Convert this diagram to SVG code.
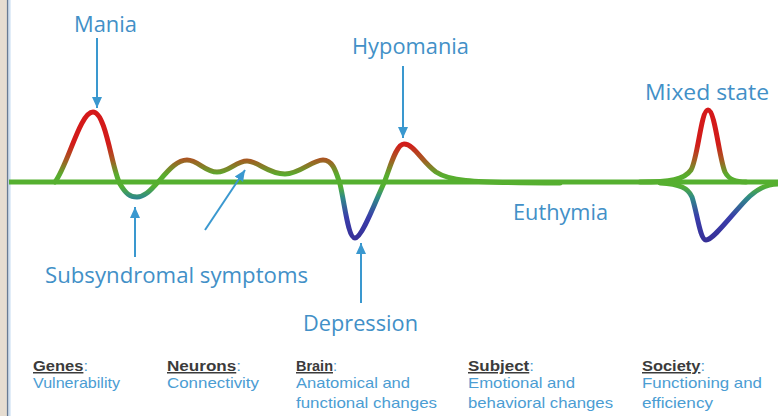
<svg xmlns="http://www.w3.org/2000/svg" width="778" height="416" viewBox="0 0 778 416">
  <style>
    .lbl { font-family: "Open Sans", "Liberation Sans", sans-serif; font-size: 21px; fill: #4290c7; }
    .ttl { font-family: "Liberation Sans", Arial, sans-serif; font-size: 15px; font-weight: bold; fill: #3b3b3b; }
    .sub { font-family: "Liberation Sans", Arial, sans-serif; font-size: 15px; fill: #4b9dd3; }
    .colon { fill: #4b9dd3; font-weight: normal; }
    .arrow { stroke: #3a98cf; stroke-width: 2; fill: none; marker-end: url(#head); }
    .mood { fill: none; stroke: url(#moodGrad); stroke-width: 5; stroke-linecap: round; stroke-linejoin: round; }
  </style>
  <defs>
    <!-- vertical colour ramp: red above the baseline, green on it, blue below -->
    <linearGradient id="moodGrad" gradientUnits="userSpaceOnUse" x1="0" y1="105" x2="0" y2="245">
      <stop offset="0" stop-color="#d5181a"/>
      <stop offset="0.28" stop-color="#d21c1a"/>
      <stop offset="0.39" stop-color="#a65a22"/>
      <stop offset="0.5" stop-color="#58ad2e"/>
      <stop offset="0.58" stop-color="#55b030"/>
      <stop offset="0.66" stop-color="#2f8a88"/>
      <stop offset="0.8" stop-color="#3a3daa"/>
      <stop offset="1" stop-color="#362e94"/>
    </linearGradient>
    <marker id="head" markerUnits="userSpaceOnUse" markerWidth="12" markerHeight="12" viewBox="0 0 12 12" refX="11" refY="6" orient="auto">
      <path d="M0,1 L11,6 L0,11 Z" fill="#3a98cf"/>
    </marker>
  </defs>

  <rect width="778" height="416" fill="#ffffff"/>

  <!-- textured side strip -->
  <g id="side-strip">
    <rect x="0" y="0" width="7" height="416" fill="#e6ddd1"/>
    <line x1="7.7" y1="0" x2="7.7" y2="416" stroke="#687b94" stroke-width="1.6"/>
    <line x1="9.6" y1="0" x2="9.6" y2="416" stroke="#cfe1f3" stroke-width="2"/>
  </g>

  <!-- euthymic baseline and mood curves -->
  <g id="baseline">
    <line x1="9" y1="182" x2="778" y2="182" stroke="#55b030" stroke-width="5"/>
  </g>
  <g id="mood-course">
    <path class="mood" d="M55,182 C68,165 80,112 93,112 C106,112 112,170 120,184 C126,194 130,197 137,197 C146,197 152,188 160,180 C170,168 178,160 187,160 C198,160 205,172 217,172 C229,172 236,161 247,161 C258,161 268,174 285,174 C300,174 312,160 323,160 C333,160 336,172 340,184 C345,205 348,238 355,238 C362,238 376,200 384,183 C390,168 396,144 404,144 C414,144 422,162 436,172 C448,180 462,183 560,183"/>
  </g>
  <g id="mixed-state-curve">
    <path class="mood" d="M640,182 C670,182 684,180 691,170 C698,158 701,110 708,110 C715,110 719,158 725,172 C729,180 736,182 746,182"/>
    <path class="mood" d="M660,183 C680,184 688,188 692,197 C697,212 700,240 706,240 C714,240 735,210 750,196 C760,187 768,184 778,184"/>
  </g>

  <!-- connectors -->
  <g id="connectors">
    <line class="arrow" x1="97" y1="38" x2="97" y2="108"/>
    <line class="arrow" x1="403" y1="66" x2="403" y2="138"/>
    <line class="arrow" x1="135" y1="257" x2="135" y2="207"/>
    <line class="arrow" x1="205" y1="230" x2="245" y2="170"/>
    <line class="arrow" x1="361" y1="303" x2="361" y2="243"/>
  </g>

  <!-- state labels -->
  <g id="mania"><text class="lbl" x="74" y="32" textLength="63" lengthAdjust="spacingAndGlyphs">Mania</text></g>
  <g id="hypomania"><text class="lbl" x="352" y="54" textLength="117" lengthAdjust="spacingAndGlyphs">Hypomania</text></g>
  <g id="mixed-state"><text class="lbl" x="645" y="100" textLength="124" lengthAdjust="spacingAndGlyphs">Mixed state</text></g>
  <g id="euthymia"><text class="lbl" x="513" y="220" textLength="95" lengthAdjust="spacingAndGlyphs">Euthymia</text></g>
  <g id="subsyndromal"><text class="lbl" x="45" y="283" textLength="263" lengthAdjust="spacingAndGlyphs">Subsyndromal symptoms</text></g>
  <g id="depression"><text class="lbl" x="303" y="331" textLength="115" lengthAdjust="spacingAndGlyphs">Depression</text></g>

  <!-- levels of analysis -->
  <g id="genes">
    <text class="ttl" x="33" y="371" textLength="55" lengthAdjust="spacingAndGlyphs"><tspan text-decoration="underline">Genes</tspan><tspan class="colon">:</tspan></text>
    <text class="sub" x="33" y="388" textLength="87" lengthAdjust="spacingAndGlyphs">Vulnerability</text>
  </g>
  <g id="neurons">
    <text class="ttl" x="167" y="371" textLength="74" lengthAdjust="spacingAndGlyphs"><tspan text-decoration="underline">Neurons</tspan><tspan class="colon">:</tspan></text>
    <text class="sub" x="167" y="388" textLength="92" lengthAdjust="spacingAndGlyphs">Connectivity</text>
  </g>
  <g id="brain">
    <text class="ttl" x="296" y="371" textLength="41" lengthAdjust="spacingAndGlyphs"><tspan text-decoration="underline">Brain</tspan><tspan class="colon">:</tspan></text>
    <text class="sub" x="296" y="388" textLength="114" lengthAdjust="spacingAndGlyphs">Anatomical and</text>
    <text class="sub" x="296" y="408" textLength="141" lengthAdjust="spacingAndGlyphs">functional changes</text>
  </g>
  <g id="subject">
    <text class="ttl" x="468" y="371" textLength="66" lengthAdjust="spacingAndGlyphs"><tspan text-decoration="underline">Subject</tspan><tspan class="colon">:</tspan></text>
    <text class="sub" x="468" y="388" textLength="107" lengthAdjust="spacingAndGlyphs">Emotional and</text>
    <text class="sub" x="468" y="408" textLength="145" lengthAdjust="spacingAndGlyphs">behavioral changes</text>
  </g>
  <g id="society">
    <text class="ttl" x="642" y="371" textLength="63" lengthAdjust="spacingAndGlyphs"><tspan text-decoration="underline">Society</tspan><tspan class="colon">:</tspan></text>
    <text class="sub" x="642" y="388" textLength="120" lengthAdjust="spacingAndGlyphs">Functioning and</text>
    <text class="sub" x="642" y="408" textLength="71" lengthAdjust="spacingAndGlyphs">efficiency</text>
  </g>
</svg>
